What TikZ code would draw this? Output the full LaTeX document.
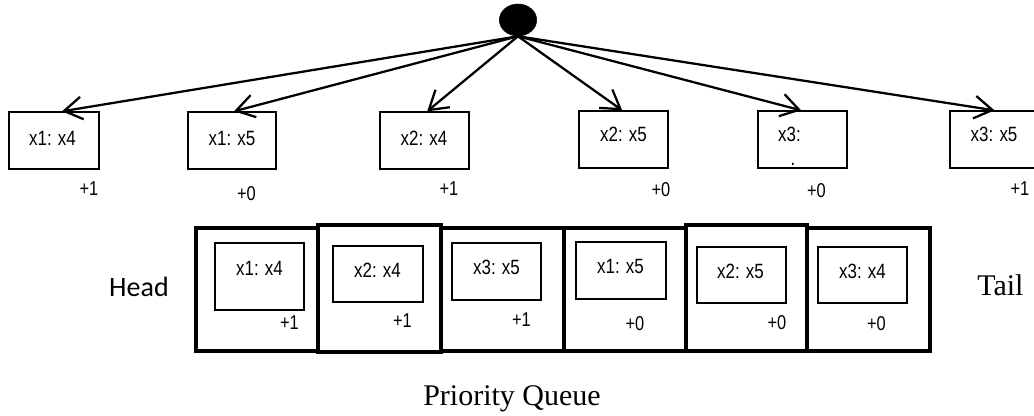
\documentclass[tikz,border=0pt]{standalone}
\usepackage{fontspec}
\usetikzlibrary{arrows.meta,fit,shapes.geometric}
\newfontfamily\labfont[FakeStretch=0.82]{Liberation Sans}
\newfontfamily\headfont{Carlito}
\newfontfamily\serfont{Liberation Serif}

\tikzset{
  rootdot/.style={ellipse, fill=black, draw=black, minimum width=28pt, minimum height=24pt, inner sep=0pt},
  topbox/.style={draw, line width=1pt, inner sep=0pt},
  cellbox/.style={draw, line width=3.6pt, inner sep=0pt},
  itembox/.style={draw, line width=0.8pt, inner sep=0pt},
  boxtxt/.style={inner sep=0pt, font=\labfont\fontsize{15.5pt}{17pt}\selectfont},
  gain/.style={inner sep=0pt, font=\labfont\fontsize{15pt}{17pt}\selectfont},
  branch/.style={line width=1.7pt, -{Straight Barb[length=13.5pt, width=17pt]}},
}

\begin{document}
\begin{tikzpicture}[x=0.75pt, y=-0.75pt]
\clip (0,0) rectangle (1034,415);

% search root
\node[rootdot] (root) at (518,20) {};

% candidate assignments
\node[topbox, fit={(9,112) (99,169)}]    (b1) {};
\node[topbox, fit={(188,112) (276,169)}] (b2) {};
\node[topbox, fit={(380,112) (469,169)}] (b3) {};
\node[topbox, fit={(579,111) (668,168)}] (b4) {};
\node[topbox, fit={(758,111) (847,168)}] (b5) {};
\node[topbox, fit={(950,111) (1039,168)}] (b6) {};

\node[boxtxt] (t1) at (52.5,138.5) {x1: x4};
\node[boxtxt] (t2) at (232,138) {x1: x5};
\node[boxtxt] (t3) at (424,138) {x2: x4};
\node[boxtxt] (t4) at (623.5,134.5) {x2: x5};
\node[boxtxt] (t5) at (789.5,134.5) {x3:};
\node[boxtxt, anchor=base] (t5b) at (793,165) {.};
\node[boxtxt] (t6) at (994,134.5) {x3: x5};

\node[gain] (g1) at (89,189) {+1};
\node[gain] (g2) at (246.5,194) {+0};
\node[gain] (g3) at (449,188.5) {+1};
\node[gain] (g4) at (661,190) {+0};
\node[gain] (g5) at (816.5,191) {+0};
\node[gain] (g6) at (1020,189) {+1};

% branches from the root
\draw[branch] (root.south) -- ([xshift=6pt]b1.north);
\draw[branch] (root.south) -- ([xshift=1.5pt]b2.north);
\draw[branch] (root.south) -- ([xshift=2pt]b3.north);
\draw[branch] (root.south) -- ([xshift=-1pt]b4.north);
\draw[branch] (root.south) -- ([xshift=-1pt]b5.north);
\draw[branch] (root.south) -- (b6.north);

% priority queue cells
\node[cellbox, fit={(196,228) (318,351)}] (c1) {};
\node[cellbox, fit={(318,225) (441,352)}] (c2) {};
\node[cellbox, fit={(441,228) (564,351)}] (c3) {};
\node[cellbox, fit={(564,228) (686,351)}] (c4) {};
\node[cellbox, fit={(686,225) (807,351)}] (c5) {};
\node[cellbox, fit={(807,228) (930,351)}] (c6) {};

\node[itembox, fit={(215,243) (304,310)}] (q1) {};
\node[itembox, fit={(333,246) (423,302)}] (q2) {};
\node[itembox, fit={(452,243) (541,300)}] (q3) {};
\node[itembox, fit={(576,242) (666,299)}] (q4) {};
\node[itembox, fit={(697,247) (786,303)}] (q5) {};
\node[itembox, fit={(818,247) (907,303)}] (q6) {};

\node[boxtxt] (qt1) at (259.5,268) {x1: x4};
\node[boxtxt] (qt2) at (377.5,270.5) {x2: x4};
\node[boxtxt] (qt3) at (496.5,267) {x3: x5};
\node[boxtxt] (qt4) at (620.5,266.5) {x1: x5};
\node[boxtxt] (qt5) at (740.5,271.5) {x2: x5};
\node[boxtxt] (qt6) at (862.5,271.5) {x3: x4};

\node[gain] (qg1) at (289.5,323) {+1};
\node[gain] (qg2) at (402.5,321) {+1};
\node[gain] (qg3) at (521.5,319.5) {+1};
\node[gain] (qg4) at (635,323.5) {+0};
\node[gain] (qg5) at (777,322.5) {+0};
\node[gain] (qg6) at (876.5,323.5) {+0};

% queue ends and caption
\node[inner sep=0pt, anchor=base east, font=\headfont\fontsize{21pt}{24pt}\selectfont] (head) at (169,296) {Head};
\node[inner sep=0pt, anchor=base west, font=\serfont\fontsize{22.5pt}{26pt}\selectfont] (tail) at (977,295) {Tail};
\node[inner sep=0pt, anchor=base west, font=\serfont\fontsize{22.5pt}{26pt}\selectfont] (caption) at (423,405) {Priority Queue};
\end{tikzpicture}
\end{document}
